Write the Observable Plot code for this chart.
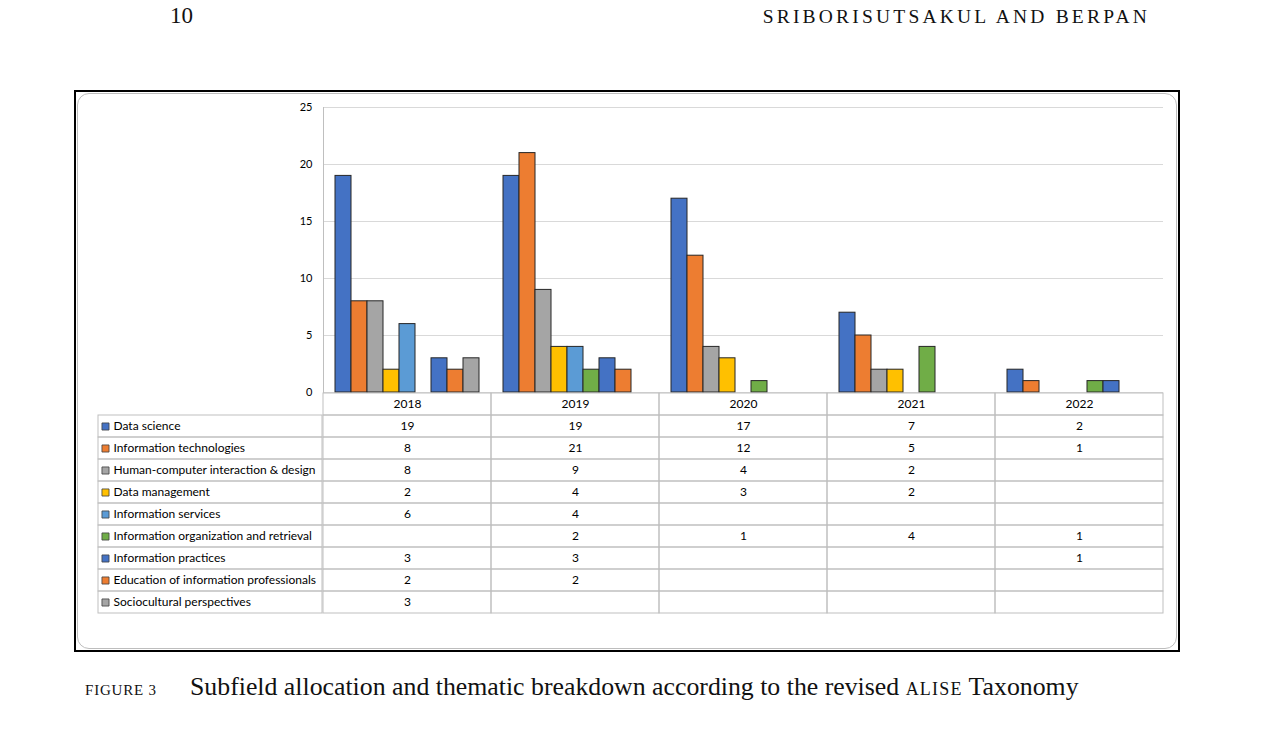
<!DOCTYPE html>
<html><head><meta charset="utf-8">
<script src="https://cdn.jsdelivr.net/npm/d3@7"></script>
<script src="https://cdn.jsdelivr.net/npm/@observablehq/plot@0.6"></script>
<style>
body{margin:0;background:#fff;}
#page{position:relative;width:1270px;height:743px;overflow:hidden;background:#fff;font-family:"Liberation Serif",serif;color:#111;}
.abs{position:absolute;}
.abs svg{overflow:visible;display:block;}
#outer{left:74px;top:90px;width:1106px;height:562px;border:2px solid #000;box-sizing:border-box;}
#inner{left:77px;top:93px;width:1100px;height:556px;border:1px solid #bdbdbd;border-radius:12px;box-sizing:border-box;}
#pagenum{left:170px;top:4px;font-size:23px;line-height:1;}
#runhead{right:120px;top:7px;font-size:19.5px;line-height:1;letter-spacing:3.2px;}
#caption{left:85px;top:674px;line-height:1;white-space:nowrap;}
#caption .fig{font-size:15px;letter-spacing:0.8px;display:inline-block;width:105px;}
#caption .txt{font-size:25.8px;}
#caption .sc{font-size:18px;letter-spacing:1.2px;}
</style></head><body>
<div id="page">
  <div id="pagenum" class="abs">10</div>
  <div id="runhead" class="abs">SRIBORISUTSAKUL AND BERPAN</div>
  <div id="outer" class="abs"></div>
  <div id="inner" class="abs"></div>
  <div id="chart" class="abs" style="left:98px;top:97px;"></div>
  <div id="tblL" class="abs" style="left:98px;top:392px;"></div>
  <div id="tblR" class="abs" style="left:322px;top:392px;"></div>
  <div id="caption" class="abs"><span class="fig">FIGURE 3</span><span class="txt">Subfield allocation and thematic breakdown according to the revised <span class="sc">ALISE</span> Taxonomy</span></div>
</div>
<script>
// ---- data ----
const years = ["2018", "2019", "2020", "2021", "2022"];
const series = [
  "Data science",
  "Information technologies",
  "Human-computer interaction & design",
  "Data management",
  "Information services",
  "Information organization and retrieval",
  "Information practices",
  "Education of information professionals",
  "Sociocultural perspectives"
];
const dataScience        = [19, 19, 17, 7, 2];
const infoTechnologies   = [8, 21, 12, 5, 1];
const hci                = [8, 9, 4, 2, null];
const dataManagement     = [2, 4, 3, 2, null];
const infoServices       = [6, 4, null, null, null];
const infoOrgRetrieval   = [null, 2, 1, 4, 1];
const infoPractices      = [3, 3, null, null, 1];
const educationInfoProf  = [2, 2, null, null, null];
const socioculturalPersp = [3, null, null, null, null];
const seriesValues = [dataScience, infoTechnologies, hci, dataManagement, infoServices,
  infoOrgRetrieval, infoPractices, educationInfoProf, socioculturalPersp];
const colors = ["#4472C4", "#ED7D31", "#A5A5A5", "#FFC000", "#5B9BD5", "#70AD47", "#4472C4", "#ED7D31", "#A5A5A5"];
const yTicks = [0, 5, 10, 15, 20, 25];

// ---- table built from arrays ----
const records = [];
series.forEach((s, i) => years.forEach((y, j) => {
  const v = seriesValues[i][j];
  if (v != null) records.push({series: s, year: y, value: v});
}));

const font = "Lato, 'Open Sans', sans-serif";
const HEADER = "__header";
const rows = [HEADER, ...series];
const gridColor = "#bfbfbf";

// ---- bar chart ----
const chart = Plot.plot({
  width: 1066, height: 305,
  marginLeft: 224, marginRight: 0, marginTop: 10, marginBottom: 10,
  style: {background: "transparent", overflow: "visible", fontFamily: font, fontSize: "11px", color: "#000"},
  fx: {domain: years, padding: 0, axis: null, label: null},
  x: {domain: series, paddingInner: 0, paddingOuter: 0.75, axis: null},
  y: {domain: [0, 25], ticks: yTicks, tickSize: 0, tickPadding: 11, label: null},
  color: {domain: series, range: colors},
  marks: [
    Plot.ruleY(yTicks, {stroke: "#d9d9d9", strokeWidth: 1}),
    Plot.frame({anchor: "left", fx: "2018", stroke: gridColor}),
    Plot.barY(records, {fx: "year", x: "series", y: "value", fill: "series", stroke: "#262626", strokeWidth: 1})
  ]
});
document.getElementById("chart").append(chart);

// ---- data table: value columns ----
const cellsAll = rows.flatMap(r => years.map(y => ({row: r, year: y})));
const tableR = Plot.plot({
  width: 842, height: 222, margin: 0,
  style: {background: "transparent", overflow: "visible", fontFamily: font, fontSize: "12px", color: "#000"},
  x: {domain: years, padding: 0, axis: null},
  y: {domain: rows, padding: 0, axis: null},
  marks: [
    Plot.cell(cellsAll, {x: "year", y: "row", fill: "none", stroke: gridColor}),
    Plot.text(years, {x: d => d, y: () => HEADER, text: d => d}),
    Plot.text(records, {x: "year", y: "series", text: d => String(d.value)})
  ]
});
document.getElementById("tblR").append(tableR);

// ---- data table: legend/label column ----
const tableL = Plot.plot({
  width: 224, height: 222, margin: 0,
  style: {background: "transparent", overflow: "visible", fontFamily: font, fontSize: "12px", color: "#000"},
  y: {domain: rows, padding: 0, axis: null},
  color: {domain: series, range: colors},
  marks: [
    Plot.cell(series, {y: d => d, fill: "none", stroke: gridColor}),
    Plot.dot(series, {y: d => d, frameAnchor: "left", dx: 7, symbol: "square", r: 4, fill: d => d, stroke: "#404040", strokeWidth: 0.8}),
    Plot.text(series, {y: d => d, frameAnchor: "left", dx: 15, textAnchor: "start", text: d => d})
  ]
});
document.getElementById("tblL").append(tableL);
</script>
</body></html>
